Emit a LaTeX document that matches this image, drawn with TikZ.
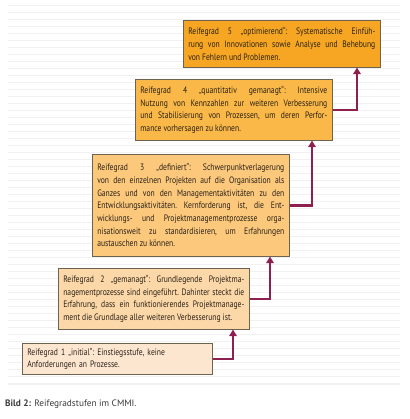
\documentclass[tikz,border=0pt]{standalone}
\usepackage{fontspec}
\setmainfont{PT Sans}
\newfontfamily\boxfont[FakeStretch=0.82]{PT Sans}
\usetikzlibrary{arrows.meta}
\newcommand\boxsetup{\frenchspacing\tolerance=10000\relax\hyphenpenalty=10000\relax\exhyphenpenalty=10000\relax}
\definecolor{cfive}{HTML}{F6A623}
\definecolor{cfour}{HTML}{F9B848}
\definecolor{cthree}{HTML}{FBC87C}
\definecolor{ctwo}{HTML}{FCD8A8}
\definecolor{cone}{HTML}{FDE6D0}
\definecolor{boxedge}{HTML}{6E6250}
\definecolor{txt}{HTML}{2A2118}
\definecolor{arrcol}{HTML}{8E2050}
\definecolor{stripecol}{HTML}{F1F1F1}
\definecolor{captxt}{HTML}{3A3A3A}
\begin{document}
\begin{tikzpicture}[x=1bp,y=-1bp,
  box/.style={draw=boxedge, line width=0.6bp, anchor=north west, inner xsep=5bp, inner ysep=0bp,
    align=justify, font=\boxfont\fontsize{9.3bp}{12.7bp}\selectfont\boxsetup, text=txt},
  arr/.style={draw=arrcol, line width=2.6bp, line join=miter, -{Triangle[width=7.5bp,length=6.5bp]}},
  stripe/.style={draw=stripecol, line width=0.9bp}]
\useasboundingbox (0,0) rectangle (410,419);
\fill[white] (0,0) rectangle (410,419);
\foreach \i in {0,...,53} \draw[stripe] (8,5+7*\i) -- (400,5+7*\i);
\draw[stripe, line width=1.2bp] (8,384) -- (400,384);

\node[box, fill=cfive, text width=187bp, minimum height=47bp] (b5) at (183,20)
 {Reifegrad 5 „optimierend“: Systematische Einfüh-\linebreak
  rung von Innovationen sowie Analyse und Behebung\linebreak
  von Fehlern und Problemen.};
\node[box, fill=cfour, text width=187bp, minimum height=61bp] (b4) at (135,79)
 {Reifegrad 4 „quantitativ gemanagt“: Intensive\linebreak
  Nutzung von Kennzahlen zur weiteren Verbesserung\linebreak
  und Stabilisierung von Prozessen, um deren Perfor-\linebreak
  mance vorhersagen zu können.};
\node[box, fill=cthree, text width=187bp, minimum height=102bp] (b3) at (92,154)
 {Reifegrad 3 „definiert“: Schwerpunktverlagerung\linebreak
  von den einzelnen Projekten auf die Organisation als\linebreak
  Ganzes und von den Managementaktivitäten zu den\linebreak
  Entwicklungsaktivitäten. Kernforderung ist, die Ent-\linebreak
  wicklungs- und Projektmanagementprozesse orga-\linebreak
  nisationsweit zu standardisieren, um Erfahrungen\linebreak
  austauschen zu können.};
\node[box, fill=ctwo, text width=181bp, minimum height=61bp] (b2) at (58,268)
 {Reifegrad 2 „gemanagt“: Grundlegende Projektma-\linebreak
  nagementprozesse sind eingeführt. Dahinter steckt die\linebreak
  Erfahrung, dass ein funktionierendes Projektmanage-\linebreak
  ment die Grundlage aller weiteren Verbesserung ist.};
\node[box, fill=cone, text width=180bp, minimum height=31bp, align=left] (b1) at (22,343)
 {Reifegrad 1 „initial“: Einstiegsstufe, keine\\
  Anforderungen an Prozesse.};

\coordinate (k1) at (233,0);
\coordinate (k2) at (270,0);
\coordinate (k3) at (312,0);
\coordinate (k4) at (357,0);
\draw[arr] (b1.east) -| (k1 |- b2.south);
\draw[arr] (b2.east) -| (k2 |- b3.south);
\draw[arr] (b3.east) -| (k3 |- b4.south);
\draw[arr] (b4.east) -| (k4 |- b5.south);

\node[anchor=west, inner sep=0bp, text=captxt, font=\fontsize{9.3bp}{10bp}\selectfont] (cap) at (5,404)
 {\textbf{Bild 2:} Reifegradstufen im CMMI.};
\end{tikzpicture}
\end{document}
